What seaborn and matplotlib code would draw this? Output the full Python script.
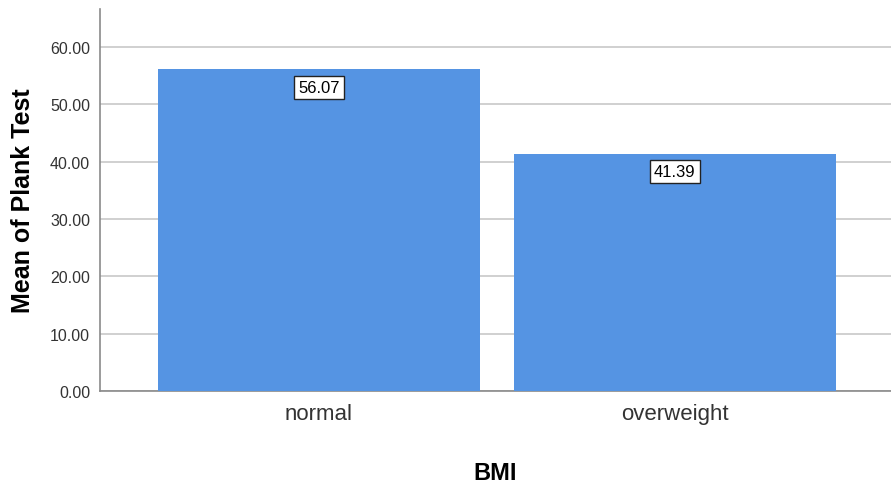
import numpy as np
import pandas as pd
import matplotlib
matplotlib.use('Agg')
import matplotlib.pyplot as plt
import seaborn as sns

# values
bmi_groups = ['normal', 'overweight']
plank_means = [56.07, 41.39]
y_ticks = [0, 10, 20, 30, 40, 50, 60]

df = pd.DataFrame({'BMI': bmi_groups, 'Plank': plank_means})

sns.set_style('white')
plt.rcParams['font.family'] = ['Liberation Sans', 'DejaVu Sans']

fig = plt.figure(figsize=(8.91, 4.85), dpi=100)
ax = fig.add_axes([0.1122, 0.1918, 0.8878, 0.7876])

sns.barplot(data=df, x='BMI', y='Plank', color='#5594e3', saturation=1,
            width=0.905, ax=ax, zorder=3, errorbar=None, linewidth=0)

ax.set_xlim(-0.615, 1.607)
ax.set_ylim(0, 66.6)
ax.set_yticks(y_ticks)
ax.set_yticklabels([f'{v:.2f}' for v in y_ticks])
ax.yaxis.grid(True, color='#c8c8c8', linewidth=1.2, zorder=0)
ax.xaxis.grid(False)
ax.set_axisbelow(True)

for s in ['top', 'right']:
    ax.spines[s].set_visible(False)
for s in ['left', 'bottom']:
    ax.spines[s].set_color('#8a8a8a')
    ax.spines[s].set_linewidth(1.2)

ax.tick_params(axis='y', length=0, pad=7, labelsize=11.5, labelcolor='#333333')
ax.tick_params(axis='x', length=0, pad=9, labelsize=16, labelcolor='#333333')

ax.set_ylabel('Mean of Plank Test', fontsize=18, fontweight='bold', labelpad=11,
              color='black')
ax.set_xlabel('BMI', fontsize=17, fontweight='bold', labelpad=26, color='black')

for i, v in enumerate(plank_means):
    ax.annotate(f'{v:.2f}', xy=(i, v), xytext=(0, -13), textcoords='offset points',
                ha='center', va='center', fontsize=12, zorder=5, color='black',
                bbox=dict(boxstyle='square,pad=0.25', facecolor='white',
                          edgecolor='#222222', linewidth=1))

fig.savefig('out.png', dpi=100)
